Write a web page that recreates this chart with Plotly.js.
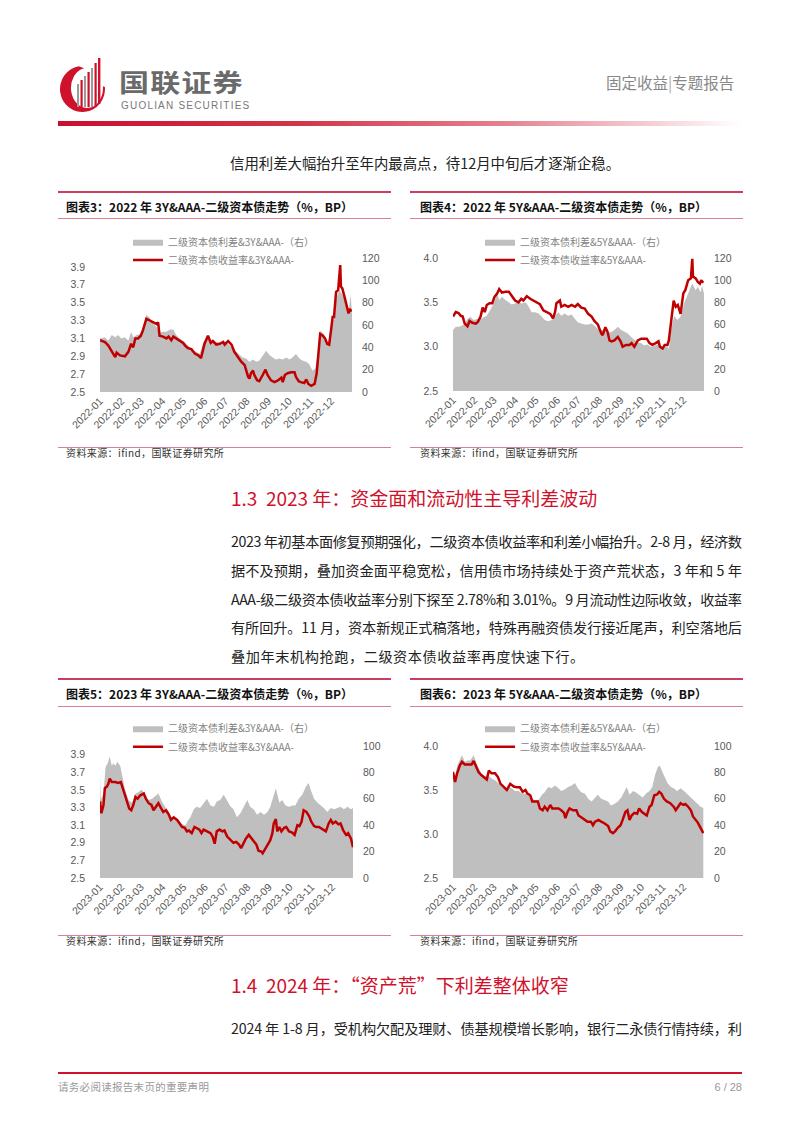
<!DOCTYPE html>
<html><head><meta charset="utf-8">
<script src="https://cdn.plot.ly/plotly-3.0.1.min.js"></script>
<style>
body{margin:0;width:802px;height:1133px;background:#fff;position:relative;overflow:hidden;font-family:"Noto Sans CJK SC","Noto Sans",sans-serif;}
.a{position:absolute;white-space:nowrap;}
.bar{position:absolute;}
.ttl{position:absolute;white-space:nowrap;font-size:12px;font-weight:700;color:#111;height:16px;line-height:16px;}
.src{position:absolute;white-space:nowrap;font-size:10px;color:#333;height:14px;line-height:14px;letter-spacing:0.4px;}
.jl{position:absolute;left:231px;white-space:nowrap;font-size:14.2px;color:#222;height:20px;line-height:20px;}
.h2{position:absolute;left:231px;white-space:nowrap;font-size:19px;color:#D0112B;height:26px;line-height:26px;}
.chart{position:absolute;}
</style></head>
<body>
<!-- header -->
<svg class="a" style="left:56px;top:54px" width="54" height="60" viewBox="0 0 54 60">
  <path d="M22.6,12.35 A22.5,23 0 1,0 48.9,33 L46.9,32.3 A16,20 0 1,1 28.2,14.3 Z" fill="#D0112B" fill-rule="evenodd"/>
  <rect x="21" y="30" width="2" height="23" fill="#9a9a9a"/>
  <rect x="24.5" y="26" width="2.2" height="27" fill="#D0112B"/>
  <rect x="28" y="22" width="2" height="31" fill="#9a9a9a"/>
  <rect x="31.5" y="18" width="2.2" height="35" fill="#D0112B"/>
  <rect x="35" y="14" width="2" height="39" fill="#9a9a9a"/>
  <rect x="38.5" y="9" width="2.2" height="44" fill="#D0112B"/>
  <rect x="42" y="4" width="2.4" height="46" fill="#D0112B"/>
</svg>
<div class="a" style="left:119px;top:69px;height:24px;line-height:24px;font-size:25px;font-weight:700;color:#6a6a6a;letter-spacing:1px;transform:scaleX(1.2);transform-origin:0 50%;">国联证券</div>
<div class="a" style="left:121px;top:100px;height:11px;line-height:11px;font-size:10px;color:#777;letter-spacing:1.2px;font-family:'Liberation Sans',sans-serif;">GUOLIAN SECURITIES</div>
<div class="a" style="left:606px;top:71px;height:22px;line-height:22px;font-size:15.5px;color:#888;">固定收益<span style="color:#aaa">|</span>专题报告</div>
<div class="bar" style="left:58px;top:121px;width:684px;height:5px;background:linear-gradient(to right,#C8102E 0%,#D23548 35%,#E5808F 65%,#F6D3D9 88%,#ffffff 100%);"></div>

<div class="a" style="left:230px;top:152px;height:22px;line-height:22px;font-size:14.4px;color:#222;">信用利差大幅抬升至年内最高点，待12月中旬后才逐渐企稳。</div>

<!-- chart 3 / 4 frames -->
<div class="bar" style="left:58px;top:191px;width:333px;height:1.5px;background:#C93F5C"></div>
<div class="ttl" style="left:66px;top:199px;">图表3：2022 年 3Y&amp;AAA-二级资本债走势（%，BP）</div>
<div class="bar" style="left:58px;top:218px;width:333px;height:1px;background:#DC7F94"></div>
<div class="bar" style="left:58px;top:447px;width:333px;height:1px;background:#DC7F94"></div>
<div class="src" style="left:66px;top:446px;">资料来源：ifind，国联证券研究所</div>

<div class="bar" style="left:410px;top:191px;width:333px;height:1.5px;background:#C93F5C"></div>
<div class="ttl" style="left:420px;top:199px;">图表4：2022 年 5Y&amp;AAA-二级资本债走势（%，BP）</div>
<div class="bar" style="left:410px;top:218px;width:333px;height:1px;background:#DC7F94"></div>
<div class="bar" style="left:410px;top:447px;width:333px;height:1px;background:#DC7F94"></div>
<div class="src" style="left:420px;top:446px;">资料来源：ifind，国联证券研究所</div>

<div id="c3" class="chart" style="left:58px;top:222px;width:335px;height:224px;"></div>
<div id="c4" class="chart" style="left:405px;top:222px;width:340px;height:224px;"></div>

<!-- section 1.3 -->
<div class="h2" style="top:485px;">1.3&nbsp;&nbsp;2023 年：资金面和流动性主导利差波动</div>
<div class="jl just" style="top:531px;">2023 年初基本面修复预期强化，二级资本债收益率和利差小幅抬升。2-8 月，经济数</div>
<div class="jl just" style="top:560px;">据不及预期，叠加资金面平稳宽松，信用债市场持续处于资产荒状态，3 年和 5 年</div>
<div class="jl just" style="top:589px;">AAA-级二级资本债收益率分别下探至 2.78%和 3.01%。9 月流动性边际收敛，收益率</div>
<div class="jl just" style="top:617px;">有所回升。11 月，资本新规正式稿落地，特殊再融资债发行接近尾声，利空落地后</div>
<div class="jl" style="top:646px;letter-spacing:0.55px;">叠加年末机构抢跑，二级资本债收益率再度快速下行。</div>

<!-- chart 5 / 6 frames -->
<div class="bar" style="left:58px;top:678px;width:333px;height:1.5px;background:#C93F5C"></div>
<div class="ttl" style="left:66px;top:686px;">图表5：2023 年 3Y&amp;AAA-二级资本债走势（%，BP）</div>
<div class="bar" style="left:58px;top:706px;width:333px;height:1px;background:#DC7F94"></div>
<div class="bar" style="left:58px;top:935px;width:333px;height:1px;background:#DC7F94"></div>
<div class="src" style="left:66px;top:934px;">资料来源：ifind，国联证券研究所</div>

<div class="bar" style="left:410px;top:678px;width:333px;height:1.5px;background:#C93F5C"></div>
<div class="ttl" style="left:420px;top:686px;">图表6：2023 年 5Y&amp;AAA-二级资本债走势（%，BP）</div>
<div class="bar" style="left:410px;top:706px;width:333px;height:1px;background:#DC7F94"></div>
<div class="bar" style="left:410px;top:935px;width:333px;height:1px;background:#DC7F94"></div>
<div class="src" style="left:420px;top:934px;">资料来源：ifind，国联证券研究所</div>

<div id="c5" class="chart" style="left:58px;top:709px;width:335px;height:224px;"></div>
<div id="c6" class="chart" style="left:405px;top:709px;width:340px;height:224px;"></div>

<!-- section 1.4 -->
<div class="h2" style="top:972px;">1.4&nbsp;&nbsp;2024 年：“资产荒”下利差整体收窄</div>
<div class="jl just" style="top:1018px;">2024 年 1-8 月，受机构欠配及理财、债基规模增长影响，银行二永债行情持续，利</div>

<!-- footer -->
<div class="bar" style="left:58px;top:1072px;width:684px;height:1.5px;background:#D0112B"></div>
<div class="a" style="left:58px;top:1079px;height:16px;line-height:16px;font-size:10.5px;color:#999;letter-spacing:0.3px;">请务必阅读报告末页的重要声明</div>
<div class="a" style="right:60px;top:1079px;height:16px;line-height:16px;font-size:11px;color:#999;font-family:'Liberation Sans',sans-serif;">6 / 28</div>

<script>
// ---------------- data ----------------
var monthTicks = ['01','02','03','04','05','06','07','08','09','10','11','12'];

// 2022, 3Y AAA- : yield (%) and spread (BP)
var y22_3Y_dates = ['01-01','01-08','01-13','01-18','01-23','01-25','01-30','02-06','02-11','02-15','02-18','02-21','02-25','03-01','03-04','03-09','03-14','03-19','03-24','03-26','03-28','04-02','04-07','04-10','04-14','04-17','04-21','04-26','05-01','05-04','05-08','05-13','05-18','05-23','05-27','06-01','06-06','06-10','06-13','06-18','06-23','06-28','06-30','07-05','07-10','07-14','07-19','07-24','07-29','08-03','08-05','08-07','08-10','08-12','08-16','08-19','08-24','08-28','08-31','09-05','09-10','09-15','09-20','09-22','09-25','09-29','10-04','10-09','10-11','10-15','10-18','10-23','10-26','10-29','11-02','11-07','11-10','11-12','11-15','11-19','11-22','11-25','11-28','12-01','12-03','12-05','12-08','12-11','12-14','12-15','12-17','12-21','12-24','12-26','12-28','12-30'];
var y22_3Y = [3.08,3.06,3.02,2.95,2.89,2.94,2.91,2.90,2.95,3.04,3.00,3.10,3.10,3.13,3.19,3.32,3.30,3.28,3.26,3.28,3.13,3.12,3.10,3.12,3.08,3.12,3.10,3.07,3.05,3.02,2.99,2.98,2.93,2.91,2.88,3.04,3.13,3.05,3.07,3.03,3.04,3.06,3.03,3.07,3.03,2.95,2.89,2.84,2.80,2.67,2.65,2.71,2.74,2.69,2.63,2.62,2.69,2.75,2.69,2.63,2.61,2.63,2.66,2.61,2.69,2.71,2.72,2.72,2.67,2.62,2.61,2.60,2.64,2.59,2.57,2.59,2.71,2.91,3.15,3.13,3.10,3.04,3.03,3.21,3.34,3.34,3.62,3.64,3.92,3.68,3.66,3.54,3.45,3.38,3.43,3.40];
var s22_3Y_dates = ['01-01','01-08','01-13','01-18','01-23','01-27','02-01','02-06','02-11','02-15','02-18','02-23','02-28','03-04','03-09','03-13','03-19','03-24','03-28','04-02','04-07','04-12','04-17','04-21','04-26','05-01','05-06','05-11','05-15','05-20','05-25','05-30','06-04','06-08','06-13','06-18','06-23','06-28','07-02','07-07','07-12','07-17','07-22','07-26','07-31','08-05','08-10','08-15','08-19','08-24','08-29','09-03','09-08','09-12','09-17','09-22','09-27','10-02','10-06','10-11','10-16','10-21','10-26','10-30','11-04','11-08','11-11','11-15','11-20','11-23','11-28','12-02','12-05','12-08','12-13','12-17','12-21','12-24','12-27','12-29','12-31'];
var s22_3Y = [48,49,46,51,49,51,48,49,46,54,49,51,52,58,69,67,61,58,53,54,54,56,56,51,48,46,43,40,37,36,34,44,49,46,45,45,44,45,44,42,38,36,33,31,30,27,29,27,28,33,37,33,31,29,30,29,31,29,31,34,30,28,27,25,19,21,33,55,52,43,46,66,64,84,91,87,81,72,76,87,70];

// 2022, 5Y AAA-
var y22_5Y_dates = ['01-01','01-05','01-09','01-12','01-15','01-18','01-22','01-25','01-29','02-03','02-06','02-10','02-13','02-16','02-19','02-23','02-27','03-02','03-06','03-09','03-13','03-18','03-23','03-27','04-01','04-06','04-10','04-13','04-18','04-23','04-28','05-02','05-07','05-12','05-17','05-22','05-26','05-29','05-31','06-05','06-07','06-12','06-17','06-22','06-27','07-01','07-06','07-11','07-16','07-21','07-25','07-30','08-04','08-06','08-10','08-13','08-16','08-19','08-23','08-28','09-01','09-04','09-09','09-14','09-17','09-21','09-26','10-01','10-05','10-09','10-13','10-17','10-22','10-26','10-28','11-01','11-04','11-08','11-10','11-14','11-17','11-20','11-23','11-27','12-01','12-04','12-08','12-12','12-14','12-15','12-19','12-22','12-25','12-27','12-30'];
var y22_5Y = [3.34,3.39,3.38,3.35,3.34,3.26,3.23,3.29,3.27,3.26,3.28,3.34,3.44,3.39,3.47,3.49,3.49,3.56,3.60,3.65,3.61,3.62,3.62,3.58,3.52,3.50,3.54,3.52,3.57,3.54,3.52,3.50,3.48,3.41,3.39,3.37,3.32,3.39,3.49,3.52,3.45,3.47,3.45,3.47,3.45,3.48,3.44,3.43,3.37,3.34,3.29,3.25,3.15,3.13,3.22,3.17,3.07,3.06,3.07,3.11,3.06,3.00,3.02,3.02,3.04,3.00,3.07,3.09,3.09,3.09,3.04,3.02,3.04,3.06,3.00,2.98,3.02,3.02,3.07,3.34,3.52,3.45,3.47,3.37,3.60,3.64,3.75,3.77,3.99,3.79,3.77,3.73,3.71,3.75,3.72];
var s22_5Y_dates = ['01-01','01-05','01-10','01-17','01-22','01-26','01-31','02-05','02-10','02-15','02-19','02-24','03-01','03-06','03-09','03-13','03-18','03-23','03-27','04-01','04-06','04-11','04-16','04-20','04-25','04-30','05-05','05-10','05-14','05-19','05-24','05-29','06-03','06-07','06-12','06-17','06-22','06-27','07-01','07-06','07-11','07-16','07-21','07-25','07-30','08-04','08-09','08-14','08-18','08-23','08-28','09-02','09-07','09-11','09-16','09-21','09-26','10-01','10-05','10-10','10-15','10-20','10-25','10-29','11-03','11-08','11-10','11-14','11-18','11-22','11-27','12-02','12-06','12-10','12-14','12-19','12-22','12-26','12-28','12-31'];
var s22_5Y = [55,58,58,60,65,67,64,65,65,67,68,73,79,88,82,85,82,80,78,79,80,79,80,77,71,71,70,67,64,63,64,68,71,68,70,68,69,65,62,61,60,60,61,59,56,55,55,53,53,55,58,55,53,52,49,46,44,43,41,42,40,41,42,40,40,40,38,58,68,64,67,79,85,92,97,91,94,89,95,88];

// 2023, 3Y AAA-
var y23_3Y_dates = ['01-01','01-03','01-06','01-08','01-11','01-13','01-15','01-18','01-23','01-27','01-31','02-04','02-08','02-12','02-15','02-18','02-21','02-24','02-28','03-05','03-08','03-12','03-16','03-19','03-22','03-26','03-30','04-02','04-06','04-10','04-13','04-17','04-22','04-25','04-29','05-03','05-06','05-09','05-13','05-17','05-20','05-24','05-27','05-30','06-04','06-09','06-12','06-15','06-18','06-22','06-26','06-29','07-03','07-08','07-12','07-16','07-20','07-23','07-27','07-30','08-03','08-07','08-10','08-14','08-17','08-21','08-23','08-27','08-31','09-03','09-06','09-08','09-11','09-13','09-16','09-19','09-23','09-26','09-30','10-04','10-08','10-12','10-15','10-18','10-21','10-25','10-29','11-01','11-05','11-08','11-12','11-17','11-22','11-26','11-29','12-02','12-06','12-10','12-13','12-17','12-21','12-24','12-28','12-31'];
var y23_3Y = [3.37,3.235,3.33,3.52,3.54,3.57,3.63,3.59,3.59,3.58,3.59,3.50,3.39,3.29,3.27,3.33,3.42,3.40,3.44,3.46,3.40,3.35,3.33,3.27,3.31,3.35,3.29,3.25,3.27,3.22,3.16,3.19,3.16,3.13,3.08,3.07,3.03,3.04,3.01,3.08,3.07,3.05,3.01,3.05,3.03,3.01,2.97,2.89,3.03,3.05,3.03,3.04,2.97,2.93,2.90,2.91,2.88,2.84,2.90,2.95,2.99,2.95,2.93,2.88,2.81,2.80,2.78,2.84,2.90,2.93,3.01,3.12,3.17,3.03,3.08,3.03,3.07,3.08,3.03,3.02,2.99,3.10,3.09,3.14,3.27,3.25,3.20,3.14,3.09,3.08,3.08,3.05,3.03,3.12,3.16,3.12,3.14,3.11,3.12,3.04,2.99,3.01,2.95,2.85];
var s23_3Y_dates = ['01-01','01-02','01-06','01-09','01-12','01-15','01-18','01-20','01-23','01-26','01-30','02-01','02-06','02-11','02-16','02-21','02-25','03-02','03-07','03-12','03-17','03-21','03-26','03-31','04-05','04-10','04-14','04-19','04-24','04-29','05-04','05-08','05-11','05-16','05-20','05-25','05-30','06-04','06-09','06-14','06-18','06-23','06-28','07-03','07-08','07-12','07-17','07-22','07-27','08-01','08-05','08-10','08-15','08-20','08-25','08-30','09-03','09-08','09-11','09-16','09-20','09-25','09-30','10-05','10-09','10-14','10-19','10-24','10-28','10-31','11-05','11-10','11-15','11-19','11-24','11-29','12-04','12-08','12-13','12-18','12-23','12-28','12-31'];
var s23_3Y = [78,59,64,84,87,92,85,87,85,88,85,79,67,59,57,64,65,67,63,59,60,62,64,58,54,50,46,45,44,41,40,44,46,52,54,53,57,60,55,54,58,59,63,58,54,52,46,49,54,59,54,52,48,50,48,50,54,63,68,57,59,55,54,55,55,60,63,69,72,67,60,57,55,53,50,53,52,53,54,52,54,52,53];

// 2023, 5Y AAA-
var y23_5Y_dates = ['01-01','01-04','01-07','01-11','01-14','01-18','01-23','01-28','01-31','02-04','02-07','02-11','02-16','02-19','02-22','02-26','03-03','03-07','03-11','03-15','03-20','03-25','03-30','04-04','04-08','04-12','04-16','04-19','04-23','04-26','04-30','05-04','05-07','05-11','05-14','05-18','05-22','05-25','05-29','06-03','06-07','06-11','06-13','06-16','06-19','06-24','06-29','07-02','07-06','07-11','07-15','07-20','07-23','07-26','07-31','08-04','08-09','08-14','08-17','08-21','08-24','08-28','09-01','09-04','09-08','09-11','09-14','09-17','09-21','09-25','09-28','10-02','10-05','10-09','10-13','10-16','10-20','10-24','10-27','10-30','11-03','11-07','11-12','11-17','11-20','11-23','11-27','12-01','12-04','12-08','12-12','12-15','12-19','12-22','12-26','12-30'];
var y23_5Y = [3.705,3.59,3.69,3.78,3.82,3.79,3.79,3.79,3.83,3.76,3.705,3.67,3.64,3.62,3.72,3.69,3.69,3.65,3.57,3.54,3.50,3.57,3.54,3.53,3.53,3.48,3.50,3.46,3.44,3.37,3.37,3.37,3.29,3.27,3.31,3.27,3.33,3.29,3.29,3.29,3.27,3.24,3.18,3.25,3.29,3.27,3.27,3.21,3.19,3.16,3.14,3.14,3.10,3.14,3.16,3.14,3.12,3.09,3.03,3.01,3.03,3.07,3.10,3.16,3.25,3.27,3.16,3.21,3.24,3.23,3.29,3.25,3.23,3.21,3.31,3.33,3.44,3.45,3.48,3.46,3.40,3.37,3.35,3.31,3.27,3.31,3.35,3.33,3.34,3.31,3.27,3.20,3.16,3.13,3.07,3.01];
var s23_5Y_dates = ['01-01','01-04','01-07','01-11','01-14','01-18','01-22','01-26','01-31','02-04','02-08','02-12','02-17','02-22','02-27','03-03','03-08','03-13','03-18','03-23','03-27','04-01','04-06','04-11','04-16','04-20','04-25','04-30','05-05','05-10','05-14','05-19','05-24','05-29','06-03','06-07','06-12','06-17','06-22','06-27','07-01','07-06','07-11','07-16','07-21','07-25','07-30','08-04','08-09','08-14','08-18','08-23','08-28','09-02','09-07','09-10','09-14','09-19','09-23','09-28','10-03','10-08','10-13','10-17','10-21','10-25','10-28','11-01','11-04','11-08','11-13','11-17','11-22','11-27','12-02','12-06','12-12','12-16','12-21','12-26','12-30'];
var s23_5Y = [82,77,85,90,93,88,89,89,93,87,82,78,77,77,75,74,72,69,67,69,68,66,66,64,64,63,60,59,59,63,65,69,68,70,68,66,67,69,70,72,68,65,64,60,58,60,63,60,59,58,55,56,58,61,66,69,63,66,65,63,61,64,66,69,78,84,85,80,77,72,69,68,66,68,66,64,61,59,56,54,53];

// ---------------- drawing ----------------
var TICK_FONT = {family:'Liberation Sans, DejaVu Sans, sans-serif', size:10.5, color:'#595959'};
var LEG_FONT = {family:'Noto Sans CJK SC, sans-serif', size:10, color:'#7f7f7f'};

function drawChart(id, year, tenor, yDates, yVals, sDates, sVals, spreadMax, leftDtick, g) {
  var pre = function (arr) { return arr.map(function (d) { return year + '-' + d; }); };
  var plotW = g.plotR - g.plotL, plotH = g.plotB - g.plotT;
  var margin = {l: g.plotL - g.divL, r: g.divL + g.divW - g.plotR, t: g.plotT - g.divT,
                b: g.divT + g.divH - g.plotB, pad: 0, autoexpand: false};
  var legX = (g.legL - g.plotL) / plotW;
  var traces = [
    {x: pre(sDates), y: sVals, type: 'scatter', mode: 'lines', fill: 'tozeroy',
     fillcolor: '#BFBFBF', line: {width: 0, color: '#BFBFBF'}, yaxis: 'y', legend: 'legend',
     name: '二级资本债利差&' + tenor + '&AAA-（右）', hoverinfo: 'skip'},
    {x: pre(yDates), y: yVals, type: 'scatter', mode: 'lines',
     line: {width: 2.5, color: '#C00000'}, yaxis: 'y2', legend: 'legend2',
     name: '二级资本债收益率&' + tenor + '&AAA-', hoverinfo: 'skip'}
  ];
  var layout = {
    width: g.divW, height: g.divH, margin: margin,
    paper_bgcolor: 'rgba(0,0,0,0)', plot_bgcolor: 'rgba(0,0,0,0)',
    font: TICK_FONT, showlegend: true,
    xaxis: {type: 'date', range: [year + '-01-01', year + '-12-31'],
            tickvals: monthTicks.map(function (m) { return year + '-' + m + '-01'; }),
            ticktext: monthTicks.map(function (m) { return year + '-' + m; }),
            tickangle: -45, tickfont: TICK_FONT, showgrid: false, zeroline: false,
            showline: false, ticks: '', automargin: false, fixedrange: true},
    yaxis: {side: 'right', range: [0, spreadMax], tick0: 0, dtick: 20, tickfont: TICK_FONT,
            showgrid: false, zeroline: false, showline: false, ticks: '', automargin: false,
            ticklabelstandoff: 9, fixedrange: true},
    yaxis2: {overlaying: 'y', side: 'left', range: [2.5, 4.0], tick0: 2.5, dtick: leftDtick,
             tickformat: '.1f', tickfont: TICK_FONT, showgrid: false, zeroline: false,
             showline: false, ticks: '', automargin: false, ticklabelstandoff: 14, fixedrange: true},
    legend: {x: legX, y: (g.plotB - g.leg1Y) / plotH, xanchor: 'left', yanchor: 'middle',
             font: LEG_FONT, bgcolor: 'rgba(0,0,0,0)', borderwidth: 0},
    legend2: {x: legX, y: (g.plotB - g.leg2Y) / plotH, xanchor: 'left', yanchor: 'middle',
              font: LEG_FONT, bgcolor: 'rgba(0,0,0,0)', borderwidth: 0}
  };
  Plotly.newPlot(id, traces, layout, {staticPlot: true, displayModeBar: false});
}

drawChart('c3', '2022', '3Y', y22_3Y_dates, y22_3Y, s22_3Y_dates, s22_3Y, 120, 0.2,
  {divL: 58, divT: 222, divW: 335, divH: 224, plotL: 100, plotT: 258, plotR: 352, plotB: 392, legL: 128, leg1Y: 241.7, leg2Y: 260});
drawChart('c4', '2022', '5Y', y22_5Y_dates, y22_5Y, s22_5Y_dates, s22_5Y, 120, 0.5,
  {divL: 405, divT: 222, divW: 340, divH: 224, plotL: 453, plotT: 258, plotR: 704, plotB: 391, legL: 480, leg1Y: 241.7, leg2Y: 260});
drawChart('c5', '2023', '3Y', y23_3Y_dates, y23_3Y, s23_3Y_dates, s23_3Y, 100, 0.2,
  {divL: 58, divT: 709, divW: 335, divH: 224, plotL: 100, plotT: 746, plotR: 353, plotB: 878, legL: 128, leg1Y: 728.3, leg2Y: 746.7});
drawChart('c6', '2023', '5Y', y23_5Y_dates, y23_5Y, s23_5Y_dates, s23_5Y, 100, 0.5,
  {divL: 405, divT: 709, divW: 340, divH: 224, plotL: 453, plotT: 746, plotR: 704, plotB: 878, legL: 480, leg1Y: 728.3, leg2Y: 746.7});

// justify paragraph lines to the text column width
(function () {
  var W = 511;
  var els = document.querySelectorAll('.just');
  for (var i = 0; i < els.length; i++) {
    var el = els[i];
    el.style.letterSpacing = '0px';
    var w = el.getBoundingClientRect().width;
    var n = Array.from(el.textContent).length;
    if (n > 1) el.style.letterSpacing = ((W - w) / (n - 1)) + 'px';
  }
})();
</script>
</body></html>
